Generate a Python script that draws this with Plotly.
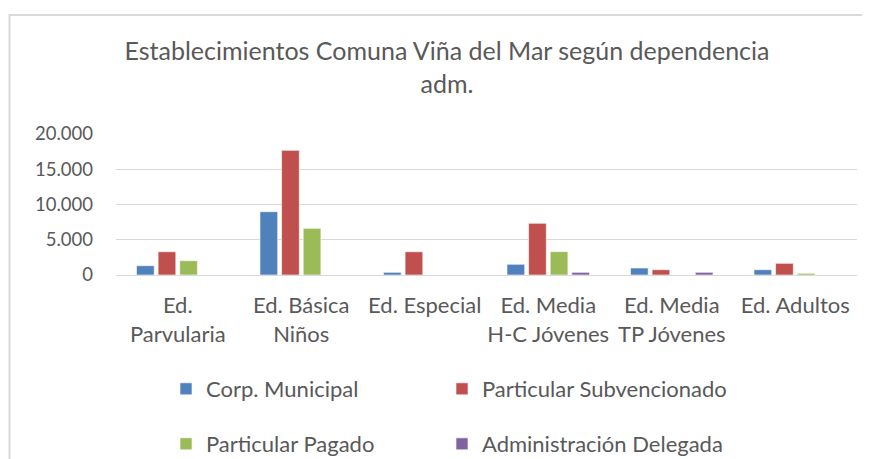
import plotly.graph_objects as go

categories = ["Ed.<br>Parvularia", "Ed. Básica<br>Niños", "Ed. Especial",
              "Ed. Media<br>H-C Jóvenes", "Ed. Media<br>TP Jóvenes", "Ed. Adultos"]
corp_municipal = [1320, 8980, 380, 1520, 990, 750]
particular_subvencionado = [3300, 17680, 3300, 7330, 750, 1660]
particular_pagado = [2030, 6620, 0, 3310, 0, 240]
administracion_delegada = [0, 0, 0, 380, 380, 0]
y_ticks = [0, 5000, 10000, 15000, 20000]

series_names = ["Corp. Municipal", "Particular Subvencionado",
                "Particular Pagado", "Administración Delegada"]
series_values = [corp_municipal, particular_subvencionado,
                 particular_pagado, administracion_delegada]
series_colors = ["#4F81BD", "#C0504D", "#9BBB59", "#8064A2"]

FONT = "Lato"
GRAY = "#595959"

# page body has an 8px margin: target screen positions minus 8
OFF = 8
W, H = 870, 459
PL, PR, PT, PB = 116 - OFF, 857 - OFF, 134 - OFF, 275 - OFF

# legend anchor positions (screen px): x of item start, y of row centre
legend_pos = [(158, 381), (434, 381), (158, 436), (434, 436)]
legend_ids = ["legend", "legend2", "legend3", "legend4"]

fig = go.Figure()
for name, vals, color, lg in zip(series_names, series_values, series_colors, legend_ids):
    fig.add_trace(go.Bar(
        x=categories, y=vals, name=name, legend=lg,
        marker=dict(color=color, line=dict(color="rgba(255,255,255,0.6)", width=1)),
    ))

legend_layouts = {}
for lg, (lx, ly) in zip(legend_ids, legend_pos):
    legend_layouts[lg] = dict(
        orientation="h", xref="container", yref="container",
        x=lx / W, y=1 - ly / H, xanchor="left", yanchor="middle",
        font=dict(size=22, color=GRAY), bgcolor="rgba(0,0,0,0)")

fig.update_layout(
    width=W, height=H,
    margin=dict(l=PL, r=W - PR, t=PT, b=H - PB, autoexpand=False),
    paper_bgcolor="white", plot_bgcolor="white",
    separators=",.",
    barmode="group", bargap=0.3, bargroupgap=0.18,
    font=dict(family=FONT, color=GRAY, size=18),
    title=dict(
        text="Establecimientos Comuna Viña del Mar según dependencia<br>adm.",
        x=(447 - OFF) / W, xanchor="center", y=1 - (60 - OFF) / H, yanchor="top",
        font=dict(family=FONT, size=25, color=GRAY),
    ),
    xaxis=dict(showgrid=False, showline=False, ticks="", automargin=False,
               ticklabelstandoff=15, tickfont=dict(size=22, color=GRAY)),
    yaxis=dict(range=[0, 20000], tickvals=y_ticks, tickformat=",d", automargin=False,
               showgrid=True, gridcolor="#D9D9D9", gridwidth=1, zeroline=True,
               zerolinecolor="#D9D9D9", zerolinewidth=1, showline=False,
               ticks="", ticklabelstandoff=22, tickfont=dict(size=18.5, color=GRAY)),
    showlegend=True,
    **legend_layouts,
)

ph = PB - PT
pw = PR - PL
fig.add_shape(type="rect", xref="paper", yref="paper",
              x0=(9.5 - OFF - PL) / pw, x1=(900 - PL) / pw,
              y0=(PB - 500) / ph, y1=(PB - (15 - OFF)) / ph,
              line=dict(color="#D9D9D9", width=2), fillcolor="rgba(0,0,0,0)", layer="below")

fig.write_html("out.html")
